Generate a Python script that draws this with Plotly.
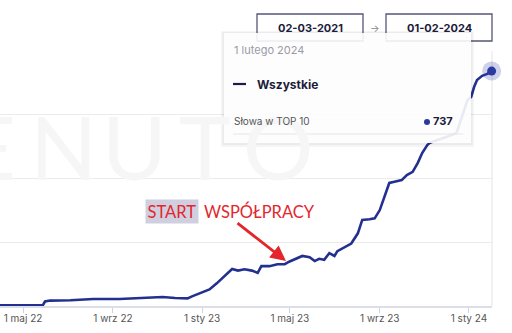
import plotly.graph_objects as go

# ---- data ----
dates = [
    "2021-03-02", "2022-03-01", "2022-05-28", "2022-05-31", "2022-06-07", "2022-07-05",
    "2022-08-05", "2022-09-10", "2022-10-14", "2022-11-08", "2022-11-25", "2022-12-12",
    "2022-12-19", "2022-12-29", "2023-01-11", "2023-01-21", "2023-01-28", "2023-02-05",
    "2023-02-11", "2023-02-19", "2023-02-28", "2023-03-10", "2023-03-18", "2023-03-23",
    "2023-04-03", "2023-04-14", "2023-04-24", "2023-04-30", "2023-05-10", "2023-05-18",
    "2023-05-28", "2023-06-04", "2023-06-10", "2023-06-17", "2023-06-24", "2023-07-01",
    "2023-07-05", "2023-07-15", "2023-07-24", "2023-08-02", "2023-08-08", "2023-08-18",
    "2023-08-25", "2023-09-01", "2023-09-08", "2023-09-14", "2023-09-21", "2023-10-01",
    "2023-10-08", "2023-10-16", "2023-10-23", "2023-10-29", "2023-11-05", "2023-11-08",
    "2023-11-15", "2023-12-01", "2023-12-15", "2023-12-26", "2023-12-30", "2024-01-04",
    "2024-01-08", "2024-01-12", "2024-01-19", "2024-01-26", "2024-02-01",
]
top10 = [
    1, 2, 2, 14, 17, 18,
    22, 22, 25, 28, 25, 24,
    31, 40, 52, 71, 87, 104,
    116, 111, 115, 111, 104, 125,
    125, 131, 131, 139, 150, 157,
    153, 141, 148, 145, 166, 157,
    172, 186, 196, 228, 270, 272,
    275, 301, 345, 386, 390, 395,
    411, 421, 449, 480, 505, 511,
    518, 530, 543, 615, 646, 656,
    687, 709, 722, 728, 737,
]
tick_dates = ["2022-05-01", "2022-09-01", "2023-01-01", "2023-05-01", "2023-09-01", "2024-01-01"]
tick_labels = ["1 maj 22", "1 wrz 22", "1 sty 23", "1 maj 23", "1 wrz 23", "1 sty 24"]
series_name = "Wszystkie"
metric_name = "Słowa w TOP 10"
tooltip_date = "1 lutego 2024"
range_start_label = "02-03-2021"
range_end_label = "01-02-2024"

# ---- layout helpers (pixel -> paper) ----
W, H = 512, 333
L, R, T, B = 0, 492, 51, 306
def px(x):
    return (x - L) / (R - L)
def py(y):
    return (B - y) / (B - T)

NAVY = "#23308f"
fig = go.Figure()
fig.add_trace(go.Scatter(x=dates, y=top10, mode="lines",
                         line=dict(color=NAVY, width=2.6), hoverinfo="skip"))
fig.add_trace(go.Scatter(x=[dates[-1]], y=[top10[-1]], mode="markers",
                         marker=dict(size=19, color="rgba(60,72,170,0.25)", line=dict(width=0)),
                         hoverinfo="skip", cliponaxis=False))
fig.add_trace(go.Scatter(x=[dates[-1]], y=[top10[-1]], mode="markers",
                         marker=dict(size=9, color="#2a3a9e", line=dict(width=0)),
                         hoverinfo="skip", cliponaxis=False))

shapes = []
annotations = []

# watermark letters
for letter, cx in zip("ENUTO", [-10, 63, 134, 205, 278]):
    annotations.append(dict(x=px(cx), y=py(146), xref="paper", yref="paper", text=letter,
                            showarrow=False, font=dict(family="Lato", size=88, color="#f6f6f6", weight=400),
                            xanchor="center", yanchor="middle"))

# right border
shapes.append(dict(type="line", xref="paper", yref="paper", x0=1, x1=1, y0=0, y1=1,
                   line=dict(color="#e4e4e4", width=1), layer="below"))

# date range boxes
for x0, x1, label in [(257, 363, range_start_label), (386, 492, range_end_label)]:
    shapes.append(dict(type="rect", xref="paper", yref="paper", x0=px(x0), x1=px(x1),
                       y0=py(41), y1=py(14), line=dict(color="#55557a", width=1.3), fillcolor="white"))
    annotations.append(dict(x=px((x0 + x1) / 2), y=py(28), xref="paper", yref="paper", text="<b>%s</b>" % label,
                            showarrow=False, font=dict(family="Inter", size=11, color="#1c1c3a"),
                            xanchor="center", yanchor="middle"))
annotations.append(dict(x=px(374.5), y=py(28), xref="paper", yref="paper", text="→", showarrow=False,
                        font=dict(family="Inter", size=10, color="#888"), xanchor="center", yanchor="middle"))

# tooltip
shapes.append(dict(type="rect", xref="paper", yref="paper", x0=px(221), x1=px(474), y0=py(147), y1=py(31),
                   line=dict(width=0), fillcolor="rgba(0,0,0,0.04)", layer="above"))
shapes.append(dict(type="rect", xref="paper", yref="paper", x0=px(222.5), x1=px(472.5), y0=py(145), y1=py(32),
                   line=dict(width=0), fillcolor="rgba(0,0,0,0.04)", layer="above"))
shapes.append(dict(type="rect", xref="paper", yref="paper", x0=px(224), x1=px(471), y0=py(143), y1=py(33),
                   line=dict(width=0), fillcolor="rgba(255,255,255,0.9)", layer="above"))
shapes.append(dict(type="line", xref="paper", yref="paper", x0=px(233), x1=px(246), y0=py(84), y1=py(84),
                   line=dict(color="#1c1c4a", width=2.2), layer="above"))
shapes.append(dict(type="line", xref="paper", yref="paper", x0=px(233), x1=px(463), y0=py(134), y1=py(134),
                   line=dict(color="#e6e6e6", width=1), layer="above"))
shapes.append(dict(type="circle", xref="paper", yref="paper", x0=px(424), x1=px(430), y0=py(125), y1=py(119),
                   line=dict(width=0), fillcolor="#2a3a9e", layer="above"))
annotations.append(dict(x=px(232), y=py(50), xref="paper", yref="paper", text=tooltip_date, showarrow=False,
                        font=dict(family="Inter", size=11, color="#9a9aa6"), xanchor="left", yanchor="middle"))
annotations.append(dict(x=px(255), y=py(84), xref="paper", yref="paper", text="<b>%s</b>" % series_name,
                        showarrow=False, font=dict(family="Inter", size=12, color="#1c1c3a"),
                        xanchor="left", yanchor="middle"))
annotations.append(dict(x=px(232), y=py(121), xref="paper", yref="paper", text=metric_name, showarrow=False,
                        font=dict(family="Inter", size=10, color="#555"), xanchor="left", yanchor="middle"))
annotations.append(dict(x=px(431), y=py(121), xref="paper", yref="paper", text="<b>%d</b>" % top10[-1],
                        showarrow=False, font=dict(family="Inter", size=11, color="#1c1c3a"),
                        xanchor="left", yanchor="middle"))

# START WSPÓŁPRACY annotation
annotations.append(dict(x=px(172), y=py(211), xref="paper", yref="paper", text="START", showarrow=False,
                        font=dict(family="Lato", size=16.5, color="#e3262b"), bgcolor="#cfcfe0",
                        borderpad=1.5, xanchor="center", yanchor="middle"))
annotations.append(dict(x=px(202), y=py(211), xref="paper", yref="paper", text="WSPÓŁPRACY", showarrow=False,
                        font=dict(family="Lato", size=16.5, color="#e3262b"), xanchor="left", yanchor="middle"))
annotations.append(dict(x=px(286), y=py(261), xref="paper", yref="paper", ax=-50, ay=-39,
                        axref="pixel", ayref="pixel", text="", showarrow=True, arrowhead=2, arrowsize=1.1,
                        arrowwidth=2.8, arrowcolor="#e3262b"))

fig.update_layout(
    width=W, height=H,
    margin=dict(l=L, r=W - R, t=T, b=H - B),
    paper_bgcolor="white", plot_bgcolor="white",
    showlegend=False,
    shapes=shapes, annotations=annotations,
    xaxis=dict(range=["2022-03-30 12:00", "2024-02-01 12:00"], tickvals=tick_dates, ticktext=tick_labels,
               showgrid=False, ticks="outside", ticklen=5, tickcolor="#cfd2e0",
               ticklabelstandoff=-3,
               showline=True, linecolor="#dcdfea", linewidth=1.5,
               tickfont=dict(family="Inter", size=10, color="#555")),
    yaxis=dict(range=[0, 800], dtick=200, showticklabels=False, gridcolor="#ebebeb",
               zeroline=False, showline=False),
)
fig.write_html("out.html")
